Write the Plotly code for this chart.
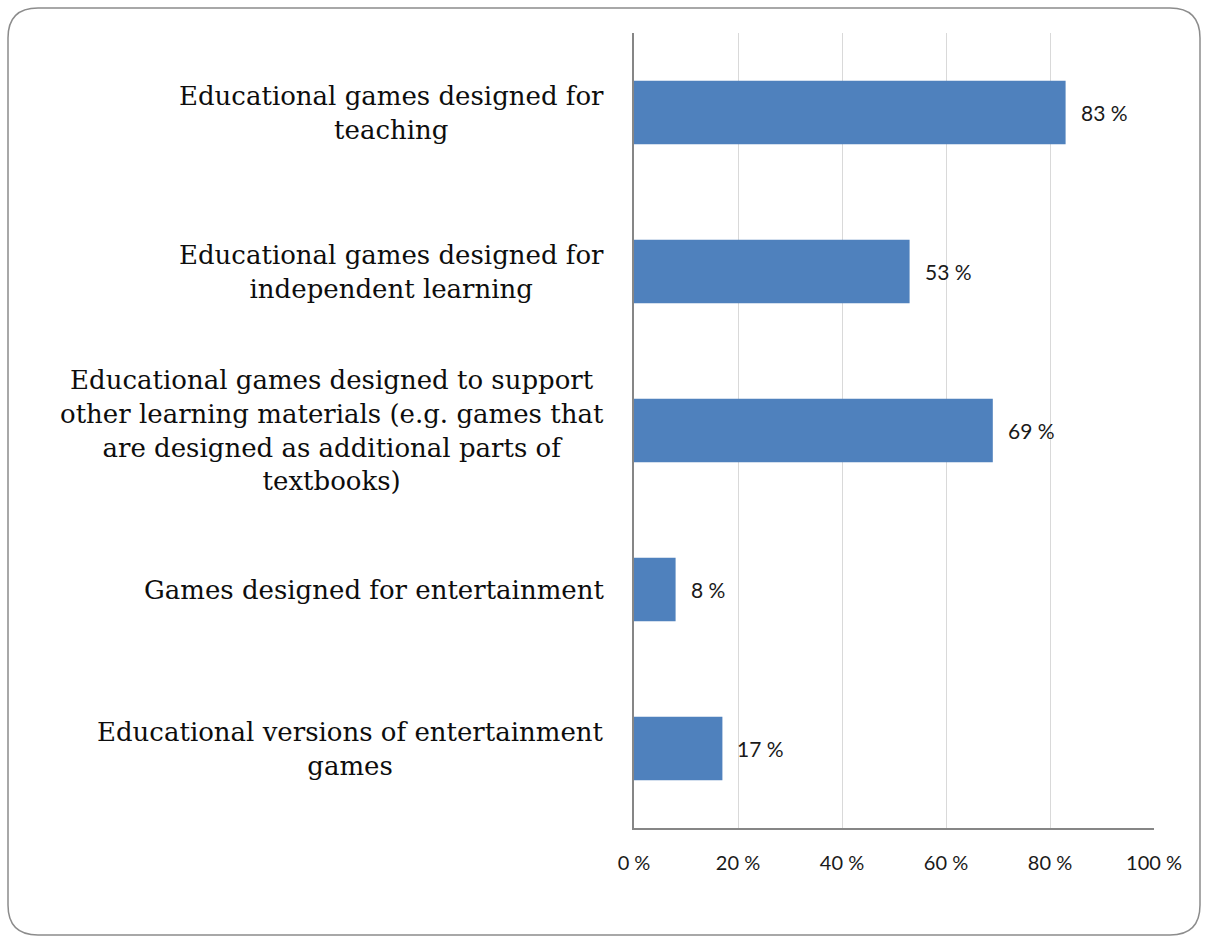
import plotly.graph_objects as go

categories = [
    "Educational games designed for<br>teaching",
    "Educational games designed for<br>independent learning",
    "Educational games designed to support<br>other learning materials (e.g. games that<br>are designed as additional parts of<br>textbooks)",
    "Games designed for entertainment",
    "Educational versions of entertainment<br>games",
]
values = [83, 53, 69, 8, 17]
tick_values = [0, 20, 40, 60, 80, 100]
tick_labels = ["0 %", "20 %", "40 %", "60 %", "80 %", "100 %"]

W, H = 1209, 941
ML, MR, MT, MB = 634, 55, 33, 113
PW, PH = W - ML - MR, H - MT - MB

ids = [f"c{i}" for i in range(len(categories))]

fig = go.Figure(
    go.Bar(
        x=values,
        y=ids,
        orientation="h",
        marker=dict(color="#4F81BD", line=dict(width=0)),
        hoverinfo="skip",
    )
)

annotations = []
# category labels, centred lines, right edge left of the axis
for cid, label in zip(ids, categories):
    annotations.append(dict(
        x=0, xref="paper", y=cid, yref="y",
        text=label, showarrow=False, xanchor="right", yanchor="middle",
        align="center", xshift=-28,
        font=dict(family="DejaVu Serif", size=26, color="#0d0d0d"),
    ))
# value labels at bar ends
for cid, v in zip(ids, values):
    annotations.append(dict(
        x=v, xref="x", y=cid, yref="y",
        text=f"{v} %", showarrow=False, xanchor="left", yanchor="middle",
        xshift=13,
        font=dict(family="Lato", size=21, color="#1a1a1a"),
    ))


def px(xp):
    return (xp - ML) / PW


def py(yp):
    return (H - MB - yp) / PH


# rounded chart frame
x0, y0, x1, y1, r = 8, 8, 1200, 935, 30
path = (
    f"M {px(x0 + r)},{py(y0)} L {px(x1 - r)},{py(y0)} "
    f"Q {px(x1)},{py(y0)} {px(x1)},{py(y0 + r)} "
    f"L {px(x1)},{py(y1 - r)} Q {px(x1)},{py(y1)} {px(x1 - r)},{py(y1)} "
    f"L {px(x0 + r)},{py(y1)} Q {px(x0)},{py(y1)} {px(x0)},{py(y1 - r)} "
    f"L {px(x0)},{py(y0 + r)} Q {px(x0)},{py(y0)} {px(x0 + r)},{py(y0)} Z"
)

fig.update_layout(
    width=W, height=H,
    margin=dict(l=ML, r=MR, t=MT, b=MB, pad=0),
    paper_bgcolor="white", plot_bgcolor="white",
    bargap=0.6, showlegend=False,
    annotations=annotations,
    shapes=[dict(type="path", path=path, xref="paper", yref="paper",
                 line=dict(color="#8c8c8c", width=1.5), layer="above")],
    xaxis=dict(
        range=[0, 100], tickvals=tick_values, ticktext=tick_labels,
        showgrid=True, gridcolor="#d9d9d9", gridwidth=1,
        showline=True, linecolor="#868686", linewidth=1.5,
        zeroline=False, ticks="", ticklabelstandoff=16,
        tickfont=dict(family="Lato", size=20, color="#1a1a1a"),
        fixedrange=True,
    ),
    yaxis=dict(
        autorange="reversed", showticklabels=False, ticks="",
        showline=True, linecolor="#868686", linewidth=1.5,
        showgrid=False, zeroline=False, fixedrange=True,
    ),
)

fig.write_html("out.html", config={"displayModeBar": False})
